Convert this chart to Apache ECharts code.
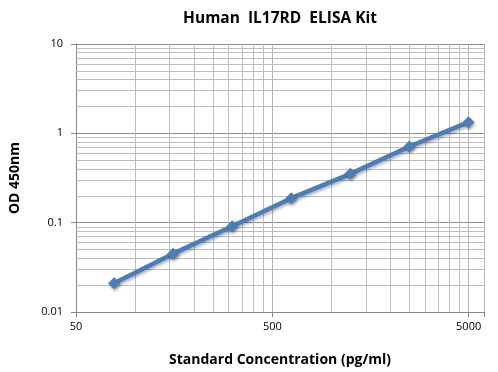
<!DOCTYPE html>
<html>
<head>
<meta charset="utf-8">
<script src="https://cdn.jsdelivr.net/npm/echarts@6/dist/echarts.min.js"></script>
<style>
html,body{margin:0;padding:0;background:#fff;}
#chart{width:498px;height:372px;}
</style>
</head>
<body>
<div id="chart"></div>
<script>
// Data
var concentrations = [78.125, 156.25, 312.5, 625, 1250, 2500, 5000];
var odValues = [0.021, 0.045, 0.091, 0.188, 0.352, 0.712, 1.334];
var xMinorGrid = [100, 150, 200, 250, 300, 350, 400, 450, 1000, 1500, 2000, 2500, 3000, 3500, 4000, 4500];
var yMinorGrid = [0.02, 0.03, 0.04, 0.05, 0.06, 0.07, 0.08, 0.09, 0.2, 0.3, 0.4, 0.5, 0.6, 0.7, 0.8, 0.9, 2, 3, 4, 5, 6, 7, 8, 9];
var xTickLabels = ['50', '500', '5000'];
var yTickLabels = ['0.01', '0.1', '1', '10'];

var FONT = '"Open Sans", "Liberation Sans", sans-serif';
var points = concentrations.map(function (c, i) { return [c, odValues[i]]; });

var gridLines = xMinorGrid.map(function (v) { return { xAxis: v }; })
  .concat(yMinorGrid.map(function (v) { return { yAxis: v }; }));

var chart = echarts.init(document.getElementById('chart'));
chart.setOption({
  animation: false,
  backgroundColor: '#ffffff',
  title: {
    text: 'Human  IL17RD  ELISA Kit',
    left: 275,
    textAlign: 'center',
    top: 6,
    textStyle: { fontFamily: FONT, fontWeight: 'bold', fontSize: 15.5, color: '#000' }
  },
  grid: { left: 72, right: 14, top: 44, bottom: 60, containLabel: false },
  xAxis: {
    type: 'log',
    logBase: 10,
    min: 50,
    max: 6000,
    interval: 1,
    name: 'Standard Concentration (pg/ml)',
    nameLocation: 'middle',
    nameGap: 41,
    nameTextStyle: { fontFamily: FONT, fontWeight: 'bold', fontSize: 14, color: '#000' },
    axisLine: { show: true, lineStyle: { color: '#868686', width: 1 } },
    axisTick: { show: true, length: 5, lineStyle: { color: '#868686' } },
    axisLabel: {
      margin: 9,
      fontFamily: FONT, fontSize: 11, color: '#000',
      formatter: function (v) {
        var s = String(Number(Number(v).toPrecision(2)));
        return xTickLabels.indexOf(s) >= 0 ? s : '';
      }
    },
    splitLine: { show: true, lineStyle: { color: '#b5b5b5', width: 1 } },
    minorTick: { show: false },
    minorSplitLine: { show: false }
  },
  yAxis: {
    type: 'log',
    logBase: 10,
    min: 0.01,
    max: 10,
    interval: 1,
    name: 'OD 450nm',
    nameLocation: 'middle',
    nameGap: 54,
    nameTextStyle: { fontFamily: FONT, fontWeight: 'bold', fontSize: 14, color: '#000' },
    axisLine: { show: true, lineStyle: { color: '#868686', width: 1 } },
    axisTick: { show: true, length: 5, lineStyle: { color: '#868686' } },
    axisLabel: {
      margin: 13,
      fontFamily: FONT, fontSize: 11, color: '#000',
      formatter: function (v) {
        var s = String(Number(Number(v).toPrecision(2)));
        return yTickLabels.indexOf(s) >= 0 ? s : '';
      }
    },
    splitLine: { show: true, lineStyle: { color: '#8c8c8c', width: 1 } }
  },
  series: [
    {
      name: 'grid',
      type: 'line',
      data: points,
      showSymbol: false,
      silent: true,
      z: 1,
      lineStyle: { opacity: 0 },
      markLine: {
        silent: true,
        z: 1,
        symbol: ['none', 'none'],
        label: { show: false },
        lineStyle: { color: '#bdbdbd', width: 1, type: 'solid' },
        emphasis: { disabled: true },
        data: gridLines
      }
    },
    {
      name: 'OD',
      type: 'line',
      data: points,
      z: 3,
      symbol: 'diamond',
      symbolSize: 12,
      itemStyle: {
        color: '#4a7ebb',
        shadowBlur: 3, shadowColor: 'rgba(0,0,0,0.35)', shadowOffsetX: 1, shadowOffsetY: 2
      },
      lineStyle: {
        color: '#4a7ebb', width: 4.5,
        shadowBlur: 3, shadowColor: 'rgba(0,0,0,0.3)', shadowOffsetX: 1, shadowOffsetY: 2
      }
    }
  ]
});
</script>
</body>
</html>
